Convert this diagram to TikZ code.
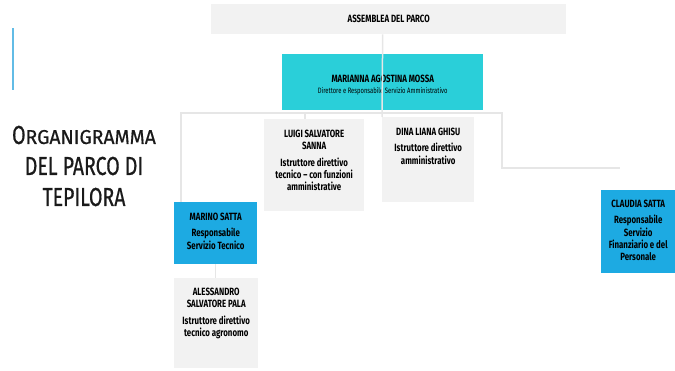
\documentclass[tikz,border=0pt]{standalone}
\usepackage{fontspec}
\setmainfont{Fira Sans}[FakeStretch=0.75]
\newfontfamily\titolofont{Fira Sans}[FakeStretch=0.75, FakeBold=0.6]
\newfontfamily\maiuscolofont{Fira Sans}[FakeStretch=0.97, FakeBold=0.6]
\usetikzlibrary{positioning}
\definecolor{grigio}{HTML}{F2F2F2}
\definecolor{ciano}{HTML}{2ACFD9}
\definecolor{azzurro}{HTML}{1DAAE2}
\definecolor{linea}{HTML}{E6E6E6}
\definecolor{barra}{HTML}{62BCE6}
\definecolor{scuro}{HTML}{1A1A1A}
\begin{document}
\begin{tikzpicture}[x=1pt, y=-1pt,
    box/.style = {anchor = north west, inner sep = 0, draw = none},
    lbl/.style = {inner sep = 0, align = center, font = \fontsize{10.5}{12.3}\selectfont\bfseries, text = black},
    conn/.style = {draw = linea, line width = 1.5pt}]
  \useasboundingbox (0, 0) rectangle (675, 370);
  % barra e titolo
  \draw [barra, line width = 1.3pt] (13, 28) -- (13, 90);
  \node (titolo) at (84, 166) [align = center, text = scuro, font = \titolofont\fontsize{26}{31}\selectfont]
    {O{\maiuscolofont\fontsize{20}{31}\selectfont RGANIGRAMMA}\\DEL PARCO DI\\TEPILORA};
  % caselle
  \node (assemblea) at (211, 4) [box, fill = grigio, minimum width = 355, minimum height = 30]
    {\fontsize{10.5}{12}\selectfont\bfseries ASSEMBLEA DEL PARCO};
  \node (mossa) at (282, 54) [box, fill = ciano, minimum width = 201, minimum height = 56] {};
  \node (luigi) at (264, 119) [box, fill = grigio, minimum width = 100, minimum height = 92] {};
  \node (dina) at (382, 117) [box, fill = grigio, minimum width = 92, minimum height = 85] {};
  \node (marino) at (174, 202) [box, fill = azzurro, minimum width = 83, minimum height = 62] {};
  \node (alessandro) at (174, 278) [box, fill = grigio, minimum width = 84, minimum height = 90] {};
  \node (claudia) at (601, 190) [box, fill = azzurro, minimum width = 74, minimum height = 83] {};
  % testi
  \node (mossa-t) [lbl, below = 21pt of mossa.north]
    {MARIANNA AGOSTINA MOSSA\\[-1pt]
     \fontsize{7.8}{11}\selectfont\mdseries Direttore e Responsabile Servizio Amministrativo};
  \node (luigi-t) [lbl, below = 11pt of luigi.north]
    {LUIGI SALVATORE\\SANNA\\[4pt]Istruttore direttivo\\tecnico -- con funzioni\\amministrative};
  \node (dina-t) [lbl, below = 11pt of dina.north]
    {DINA LIANA GHISU\\[4pt]Istruttore direttivo\\amministrativo};
  \node (marino-t) [lbl, below = 11pt of marino.north]
    {MARINO SATTA\\[4pt]Responsabile\\Servizio Tecnico};
  \node (alessandro-t) [lbl, below = 10pt of alessandro.north]
    {ALESSANDRO\\SALVATORE PALA\\[4pt]Istruttore direttivo\\tecnico agronomo};
  \node (claudia-t) [lbl, below = 10pt of claudia.north]
    {CLAUDIA SATTA\\[4pt]Responsabile\\Servizio\\Finanziario e del\\Personale};
  % collegamenti
  \coordinate (hl) at (181, 113);
  \coordinate (hr) at (502, 113);
  \coordinate (hluigi) at (305, 113);
  \coordinate (fine) at (620, 168);
  \draw [conn] (mossa.north |- assemblea.south) -- (dina.north west);
  \draw [conn] (hl |- marino.north) -- (hl) -- (hr) -- (hr |- fine) -- (fine);
  \draw [conn] (hluigi) -- (hluigi |- luigi.north);
  \draw [conn] (marino.south) -- (marino.south |- alessandro.north);
\end{tikzpicture}
\end{document}
